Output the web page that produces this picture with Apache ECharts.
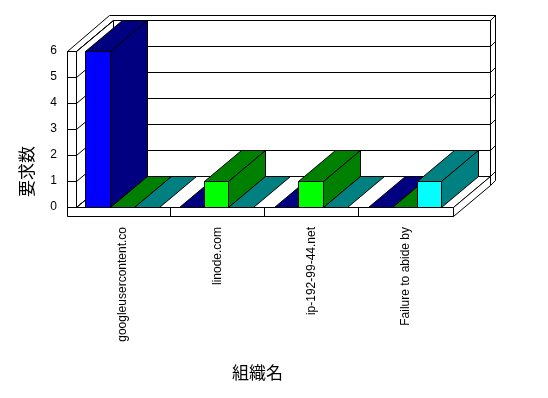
<!DOCTYPE html>
<html><head><meta charset="utf-8">
<script src="https://cdn.jsdelivr.net/npm/echarts@6/dist/echarts.min.js"></script>
<style>html,body{margin:0;padding:0;background:#fff}#c{width:548px;height:398px}</style>
</head><body><div id="c"></div>
<script>
const categories = ['googleusercontent.co', 'linode.com', 'ip-192-99-44.net', 'Failure to abide by'];
const seriesNames = ['系列1', '系列2', '系列3'];
const series1 = [6, 0, 0, 0];
const series2 = [0, 1, 1, 0];
const series3 = [0, 0, 0, 1];
const yTicks = [0, 1, 2, 3, 4, 5, 6];
const xAxisName = '組織名';
const yAxisName = '要求数';

const faceColors = ['#0000ff', '#00ff00', '#00ffff'];
const sideColors = ['#000080', '#008000', '#008080'];

const DX = 37, DY = -31, T = 0.16, WALL = 9;
const BAR_START = 0.102, BAR_W = 0.26;

function snap(v) { return Math.round(v - 0.5) + 0.5; }
function P(x, y, z) { return [snap(x + DX * z), snap(y + DY * z)]; }
function poly(points, fill) {
  return { type: 'polygon', shape: { points: points }, style: { fill: fill, stroke: '#000', lineWidth: 1 } };
}
function seg(a, b) {
  return { type: 'line', shape: { x1: a[0], y1: a[1], x2: b[0], y2: b[1] }, style: { stroke: '#000', lineWidth: 1 } };
}

function renderWalls(params, api) {
  const cs = params.coordSys;
  const x0 = cs.x, x1 = cs.x + cs.width, yb = cs.y + cs.height, yt = cs.y;
  const xo = x0 - WALL, yf = yb + WALL, z2 = 1 + T;
  const ch = [];
  // back wall right face
  ch.push(poly([P(x1, yf, 1), P(x1, yt, 1), P(x1, yt, z2), P(x1, yf, z2)], '#fff'));
  // top faces of left wall and back wall
  ch.push(poly([P(xo, yt, 0), P(x0, yt, 0), P(x0, yt, 1), P(x1, yt, 1), P(x1, yt, z2), P(xo, yt, z2)], '#fff'));
  // back wall front face
  ch.push(poly([P(x0, yb, 1), P(x1, yb, 1), P(x1, yt, 1), P(x0, yt, 1)], '#fff'));
  // left wall inner face
  ch.push(poly([P(x0, yb, 0), P(x0, yt, 0), P(x0, yt, 1), P(x0, yb, 1)], '#fff'));
  // floor top
  ch.push(poly([P(x0, yb, 0), P(x1, yb, 0), P(x1, yb, 1), P(x0, yb, 1)], '#fff'));
  // floor right face
  ch.push(poly([P(x1, yb, 0), P(x1, yf, 0), P(x1, yf, 1), P(x1, yb, 1)], '#fff'));
  // front faces (left wall + floor)
  ch.push(poly([P(xo, yt, 0), P(x0, yt, 0), P(x0, yb, 0), P(x1, yb, 0), P(x1, yf, 0), P(xo, yf, 0)], '#fff'));
  // gridlines
  yTicks.forEach(function (v) {
    const y = api.coord([0, v])[1];
    ch.push(seg(P(xo, y, 0), P(x0, y, 0)));
    ch.push(seg(P(x0, y, 0), P(x0, y, 1)));
    ch.push(seg(P(x0, y, 1), P(x1, y, 1)));
    ch.push(seg(P(x1, y, 1), P(x1, y, z2)));
  });
  // category dividers on floor front
  const band = cs.width / categories.length;
  for (let k = 1; k < categories.length; k++) {
    const x = x0 + band * k;
    ch.push(seg(P(x, yb, 0), P(x, yf, 0)));
  }
  return { type: 'group', children: ch };
}

function makeBarRenderer(si) {
  return function (params, api) {
    const ci = api.value(0), v = api.value(1);
    const band = api.size([1, 0])[0];
    const c = api.coord([ci, 0]);
    const top = api.coord([ci, v])[1];
    const yb = c[1];
    const left = c[0] - band / 2 + band * (BAR_START + si * BAR_W);
    const right = left + band * BAR_W;
    const ch = [];
    ch.push(poly([P(left, top, 0), P(right, top, 0), P(right, top, 1), P(left, top, 1)], sideColors[si]));
    if (v > 0) {
      ch.push(poly([P(right, yb, 0), P(right, top, 0), P(right, top, 1), P(right, yb, 1)], sideColors[si]));
      ch.push(poly([P(left, yb, 0), P(right, yb, 0), P(right, top, 0), P(left, top, 0)], faceColors[si]));
    }
    return { type: 'group', children: ch };
  };
}

const allSeries = [series1, series2, series3];
const chart = echarts.init(document.getElementById('c'), null, { renderer: 'canvas' });
const seriesList = [{
  type: 'custom', name: 'walls', clip: false, silent: true,
  renderItem: renderWalls, data: [[0, 0]], z: 1
}];
allSeries.forEach(function (arr, si) {
  seriesList.push({
    type: 'custom', name: seriesNames[si], clip: false, z: 2,
    renderItem: makeBarRenderer(si),
    data: arr.map(function (v, i) { return [i, v]; })
  });
});

chart.setOption({
  animation: false,
  backgroundColor: '#fff',
  grid: { left: 76, top: 51, width: 377, height: 156 },
  xAxis: {
    type: 'category', data: categories,
    axisLine: { show: false }, axisTick: { show: false }, splitLine: { show: false },
    axisLabel: { rotate: 90, margin: 20, interval: 0, color: '#000', fontSize: 12, fontFamily: 'Liberation Sans' }
  },
  yAxis: {
    type: 'value', min: yTicks[0], max: yTicks[yTicks.length - 1], interval: 1, offset: WALL,
    axisLine: { show: false }, axisTick: { show: false }, splitLine: { show: false },
    axisLabel: { margin: 10, color: '#000', fontSize: 12, fontFamily: 'Liberation Sans' }
  },
  graphic: [
    { type: 'text', left: 258 - 26, top: 364, style: { text: xAxisName, fill: '#000', font: '17px "Noto Sans CJK JP"' } },
    { type: 'text', x: 18, y: 197, rotation: Math.PI / 2, style: { text: yAxisName, fill: '#000', font: '17px "Noto Sans CJK JP"' } }
  ],
  series: seriesList
});
</script>
</body></html>
